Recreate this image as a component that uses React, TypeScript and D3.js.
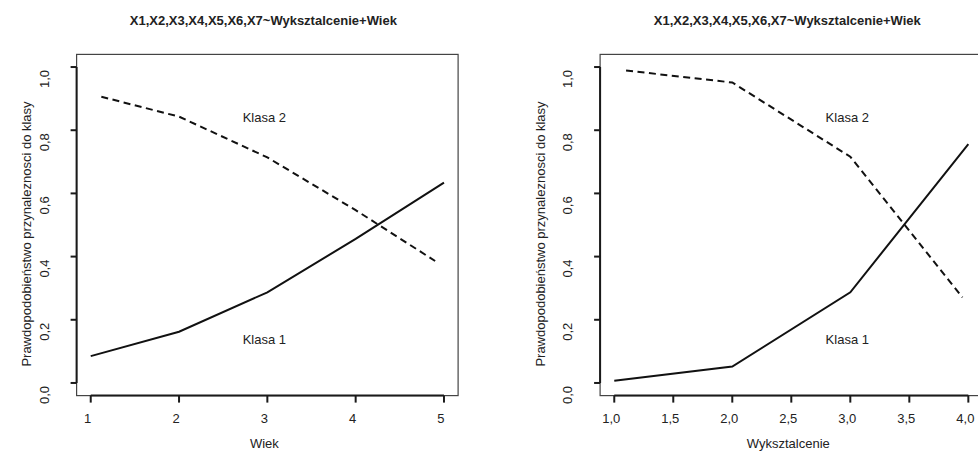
import React from "react";
import * as d3 from "d3";

const TITLE = "X1,X2,X3,X4,X5,X6,X7~Wyksztalcenie+Wiek";
const Y_LABEL = "Prawdopodobieństwo przynaleznosci do klasy";

// Panel 1: Wiek
const wiekX = [1, 2, 3, 4, 5];
const wiekKlasa1 = [0.085, 0.162, 0.287, 0.456, 0.634];
const wiekKlasa2X = [1.12, 2, 3, 4, 4.9];
const wiekKlasa2 = [0.906, 0.843, 0.714, 0.547, 0.386];
const wiekTicks = [1, 2, 3, 4, 5];

// Panel 2: Wyksztalcenie
const wykX = [1, 2, 3, 4];
const wykKlasa1 = [0.007, 0.052, 0.287, 0.756];
const wykKlasa2X = [1.1, 2, 3, 3.95];
const wykKlasa2 = [0.989, 0.951, 0.716, 0.271];
const wykTicks = [1, 1.5, 2, 2.5, 3, 3.5, 4];

const yTicks = [0, 0.2, 0.4, 0.6, 0.8, 1.0];

const FONT = "'Liberation Sans', Arial, Helvetica, sans-serif";
const fmt = (v: number, dec: number) => v.toFixed(dec).replace(".", ",");

type PanelProps = {
  left: number;
  right: number;
  xDomain: [number, number];
  xTicks: number[];
  tickDec: number;
  xLabel: string;
  k1x: number[];
  k1y: number[];
  k2x: number[];
  k2y: number[];
  yLabelOffset: number;
};

function Panel(p: PanelProps) {
  const top = 54.4;
  const bottom = 395.6;
  const x = d3.scaleLinear().domain(p.xDomain).range([p.left, p.right]);
  const y = d3.scaleLinear().domain([-0.04, 1.04]).range([bottom, top]);
  const line = d3
    .line<[number, number]>()
    .x((d) => x(d[0]))
    .y((d) => y(d[1]));
  const k1 = line(p.k1x.map((v, i) => [v, p.k1y[i]] as [number, number])) || "";
  const k2 = line(p.k2x.map((v, i) => [v, p.k2y[i]] as [number, number])) || "";
  const cx = (p.left + p.right) / 2;
  const dx = -3;
  const x0 = x(p.xTicks[0]);
  const x1 = x(p.xTicks[p.xTicks.length - 1]);
  const yl = p.left - 28;
  return (
    <g fontFamily={FONT} fill="#222">
      <text x={cx - 4} y={25.3} fontSize={13} fontWeight="bold" textAnchor="middle">
        {TITLE}
      </text>
      <rect
        x={p.left}
        y={top}
        width={p.right - p.left}
        height={bottom - top}
        fill="none"
        stroke="#444"
        strokeWidth={1.2}
      />
      {/* x axis */}
      <line x1={x0} x2={x1} y1={bottom} y2={bottom} stroke="#1a1a1a" strokeWidth={2} />
      {p.xTicks.map((t) => (
        <g key={"xt" + t}>
          <line x1={x(t)} x2={x(t)} y1={bottom} y2={bottom + 7} stroke="#1a1a1a" strokeWidth={2} />
          <text x={x(t) + dx} y={423.3} fontSize={13} textAnchor="middle">
            {fmt(t, p.tickDec)}
          </text>
        </g>
      ))}
      <text x={cx + dx} y={448} fontSize={13} textAnchor="middle">
        {p.xLabel}
      </text>
      {/* y axis */}
      <line x1={p.left} x2={p.left} y1={y(0)} y2={y(1)} stroke="#1a1a1a" strokeWidth={2} />
      {yTicks.map((t) => (
        <g key={"yt" + t}>
          <line x1={p.left - 6} x2={p.left} y1={y(t)} y2={y(t)} stroke="#1a1a1a" strokeWidth={2} />
          <text
            transform={`translate(${yl},${y(t) + 12}) rotate(-90)`}
            fontSize={13}
            textAnchor="middle"
          >
            {fmt(t, 1)}
          </text>
        </g>
      ))}
      <text
        transform={`translate(${p.left - p.yLabelOffset},234) rotate(-90)`}
        fontSize={13}
        textAnchor="middle"
      >
        {Y_LABEL}
      </text>
      {/* lines */}
      <path d={k1} fill="none" stroke="#111" strokeWidth={2} />
      <path d={k2} fill="none" stroke="#111" strokeWidth={2} strokeDasharray="7,4.5" />
      <text x={x(3) + dx} y={y(0.84) + 4.5} fontSize={13} textAnchor="middle">
        Klasa 2
      </text>
      <text x={x(3) + dx} y={y(0.138) + 4.5} fontSize={13} textAnchor="middle">
        Klasa 1
      </text>
    </g>
  );
}

export default function App() {
  return (
    <svg width={978} height={451} style={{ position: "absolute", left: 0, top: 0, background: "#fff" }}>
      <rect width={978} height={451} fill="#fff" />
      <Panel
        left={76.6}
        right={458.1}
        xDomain={[0.84, 5.16]}
        xTicks={wiekTicks}
        tickDec={0}
        xLabel="Wiek"
        k1x={wiekX}
        k1y={wiekKlasa1}
        k2x={wiekKlasa2X}
        k2y={wiekKlasa2}
        yLabelOffset={46}
      />
      <Panel
        left={600.1}
        right={982.5}
        xDomain={[0.88, 4.12]}
        xTicks={wykTicks}
        tickDec={1}
        xLabel="Wyksztalcenie"
        k1x={wykX}
        k1y={wykKlasa1}
        k2x={wykKlasa2X}
        k2y={wykKlasa2}
        yLabelOffset={55}
      />
    </svg>
  );
}
